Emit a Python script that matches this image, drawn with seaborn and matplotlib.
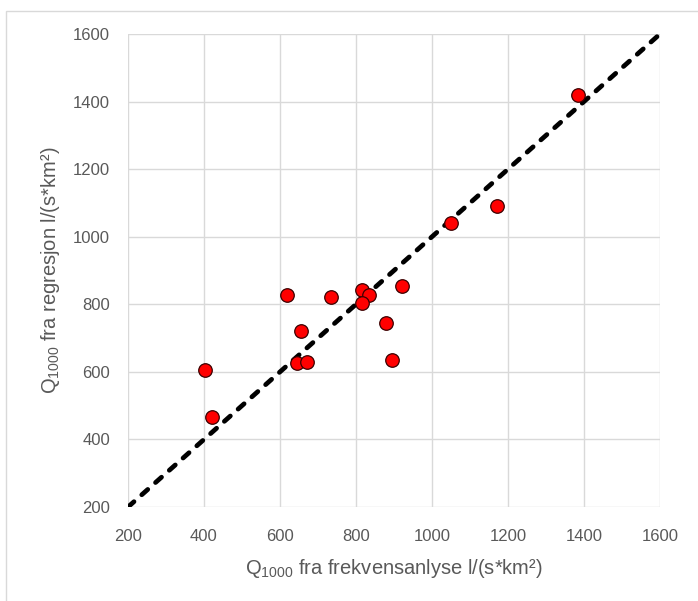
import numpy as np
import pandas as pd
import matplotlib
matplotlib.use("Agg")
import matplotlib.pyplot as plt
import seaborn as sns
from matplotlib.patches import Rectangle

# Q1000 values
frekvens = [618, 733, 816, 835, 816, 922, 879, 655, 645, 672, 896, 403, 420, 1049, 1172, 1385]
regresjon = [828, 823, 843, 828, 803, 853, 745, 720, 625, 630, 635, 605, 465, 1040, 1090, 1418]
diag = [200, 1600]
ticks = [200, 400, 600, 800, 1000, 1200, 1400, 1600]

df = pd.DataFrame({"frekvens": frekvens, "regresjon": regresjon})
line_df = pd.DataFrame({"x": diag, "y": diag})

sns.set_theme(style="whitegrid")
plt.rcParams['font.family'] = ['Liberation Sans', 'DejaVu Sans']

fig = plt.figure(figsize=(6.98, 6.01), dpi=100)
ax = fig.add_axes([128 / 698, 94 / 601, 532 / 698, 473 / 601])

# outer chart border
fig.patches.append(Rectangle((6 / 698, -0.1), 1.2, (601 - 11) / 601 + 0.1,
                             transform=fig.transFigure, fill=False,
                             edgecolor="#d9d9d9", linewidth=1.0, zorder=0))

sns.lineplot(data=line_df, x="x", y="y", ax=ax, color="black", linewidth=3.4,
             dashes=False, zorder=2)
ax.lines[0].set_dashes([1.7, 2.2])
ax.lines[0].set_dash_capstyle("round")

sns.scatterplot(data=df, x="frekvens", y="regresjon", ax=ax, s=95,
                color="#ff0000", edgecolor="#3a0000", linewidth=0.9, zorder=3)

ax.set_xlim(200, 1600)
ax.set_ylim(200, 1600)
ax.set_xticks(ticks)
ax.set_yticks(ticks)
ax.grid(True, color="#d9d9d9", linewidth=1.0)
for s in ax.spines.values():
    s.set_visible(False)
ax.tick_params(axis="both", colors="#595959", labelsize=12, length=0)
ax.tick_params(axis="x", pad=16)
ax.tick_params(axis="y", pad=13)

ax.set_xlabel("Q$_{\\mathregular{1000}}$ fra frekvensanlyse l/(s*km²)", color="#595959",
              fontsize=14.5, labelpad=9)
ax.set_ylabel("Q$_{\\mathregular{1000}}$ fra regresjon l/(s*km²)", color="#595959",
              fontsize=14.5, labelpad=8)

fig.savefig("out.png", dpi=100)
